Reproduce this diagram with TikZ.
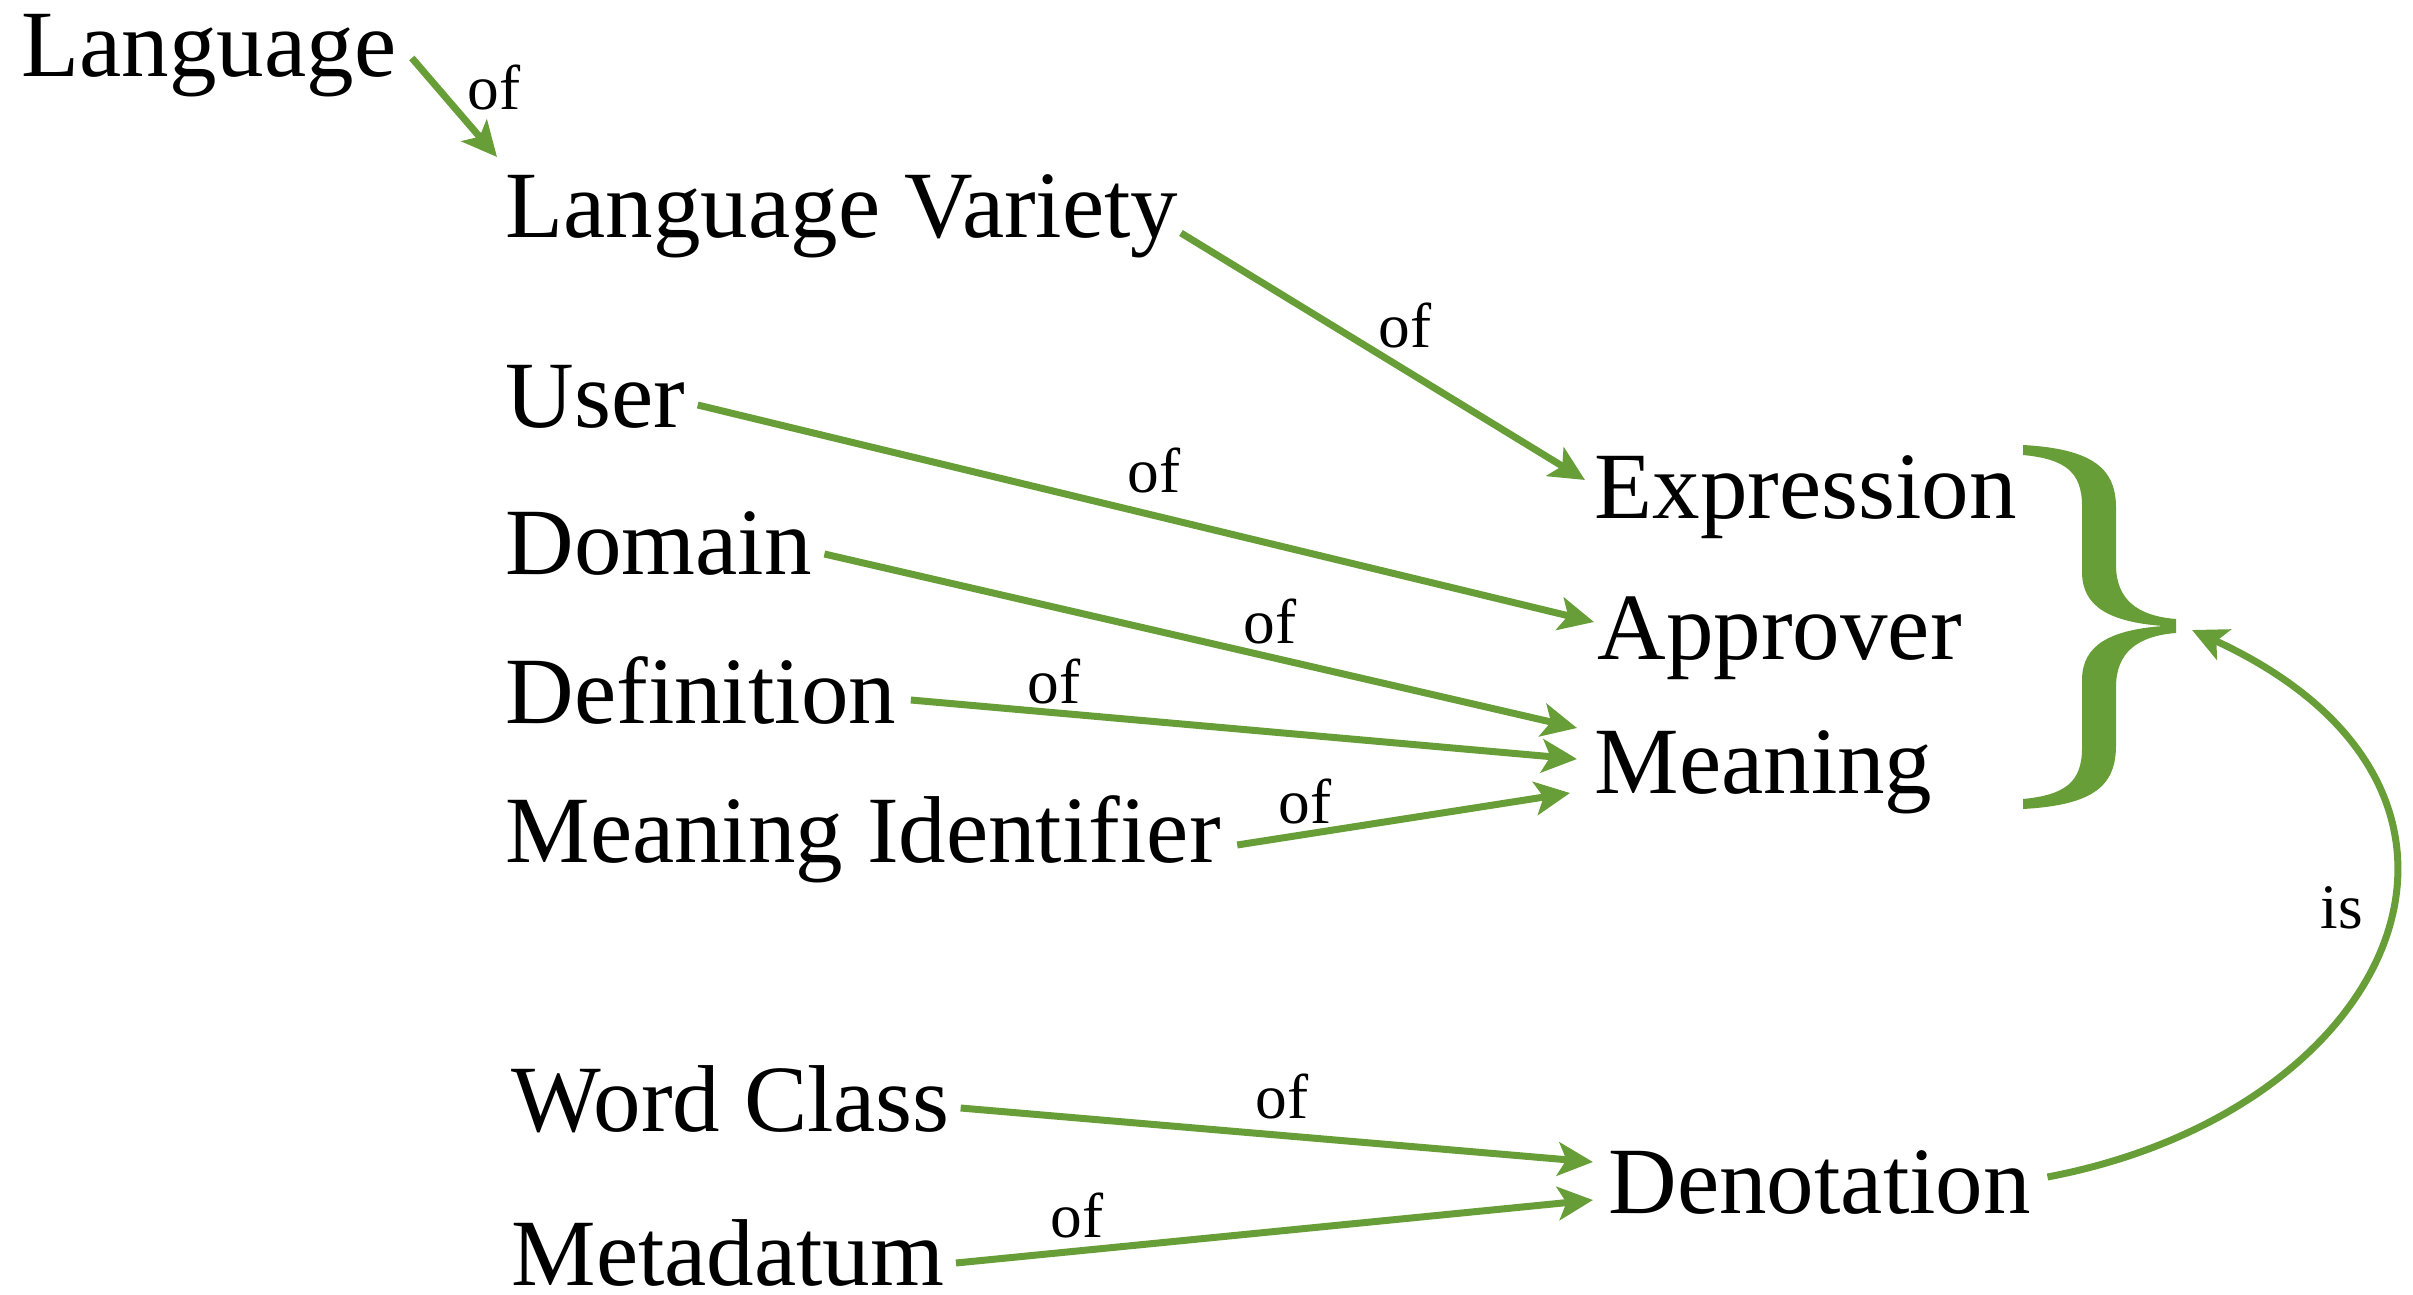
\documentclass[tikz,border=0pt]{standalone}
\usepackage{fontspec}
\setmainfont{Liberation Serif}
\usetikzlibrary{arrows.meta}
\definecolor{grn}{RGB}{104,158,56}
\begin{document}
\begin{tikzpicture}[x=0.3pt,y=-0.3pt,
  term/.style={anchor=base west, inner sep=0pt, font=\fontsize{28.5}{34}\selectfont},
  lbl/.style={inner sep=0pt, font=\fontsize{19}{22}\selectfont},
  conn/.style={draw=grn, line width=2.1pt, -{Stealth[length=10.5pt,width=10pt,inset=2.5pt]}}]
\useasboundingbox (0,0) rectangle (2413,1295);

% terms
\node[term] (lang) at (21,77)   {Language};
\node[term] (lv)   at (505,238) {Language Variety};
\node[term] (user) at (505,428) {User};
\node[term] (dom)  at (505,574) {Domain};
\node[term] (def)  at (505,723) {Definition};
\node[term] (mid)  at (505,862) {Meaning Identifier};
\node[term] (expr) at (1594,519) {Expression};
\node[term] (appr) at (1597,659) {Approver};
\node[term] (mean) at (1594,793) {Meaning};
\node[term] (wc)   at (511,1131) {Word Class};
\node[term] (meta) at (511,1285) {Metadatum};
\node[term] (deno) at (1608,1213) {Denotation};

% brace
\fill[grn] (2023,445) .. controls (2095,449) and (2116,470) .. (2116,508)
  -- (2116,565) .. controls (2116,600) and (2138,616) .. (2176,619)
  -- (2176,633) .. controls (2138,636) and (2116,652) .. (2116,687)
  -- (2116,745) .. controls (2116,785) and (2095,805) .. (2023,809)
  -- (2023,799) .. controls (2065,795) and (2082,782) .. (2082,748)
  -- (2082,680) .. controls (2082,645) and (2110,630) .. (2163,626)
  .. controls (2110,622) and (2082,607) .. (2082,572)
  -- (2082,506) .. controls (2082,472) and (2065,459) .. (2023,455) -- cycle;
\coordinate (bracetip) at (2192,630);

% connectors
\draw[conn] ([shift={(15,-19)}]lang.base east) -- ([shift={(-8,-81)}]lv.base west);
\draw[conn] ([shift={(2,-5)}]lv.base east) -- ([shift={(-9,-39)}]expr.base west);
\draw[conn] ([shift={(12,-23)}]user.base east) -- ([shift={(-3,-37)}]appr.base west);
\draw[conn] ([shift={(12,-20)}]dom.base east) -- ([shift={(-17,-65)}]mean.base west);
\draw[conn] ([shift={(14,-23)}]def.base east) -- ([shift={(-17,-34)}]mean.base west);
\draw[conn] ([shift={(16,-17)}]mid.base east) -- ([shift={(-24,0)}]mean.base west);
\draw[conn] ([shift={(10,-23)}]wc.base east) -- ([shift={(-15,-51)}]deno.base west);
\draw[conn] ([shift={(11,-22)}]meta.base east) -- ([shift={(-15,-13)}]deno.base west);
\draw[conn] ([shift={(16,-36)}]deno.base east) .. controls (2400,1110) and (2540,790) .. (bracetip);

% labels
\node[lbl] (l1) at (494,88)    {of};
\node[lbl] (l2) at (1405,326)  {of};
\node[lbl] (l3) at (1154,471)  {of};
\node[lbl] (l4) at (1270,622)  {of};
\node[lbl] (l5) at (1054,682)  {of};
\node[lbl] (l6) at (1305,802)  {of};
\node[lbl] (l7) at (1282,1097) {of};
\node[lbl] (l8) at (1077,1216) {of};
\node[lbl] (l9) at (2342,908)  {is};
\end{tikzpicture}
\end{document}
